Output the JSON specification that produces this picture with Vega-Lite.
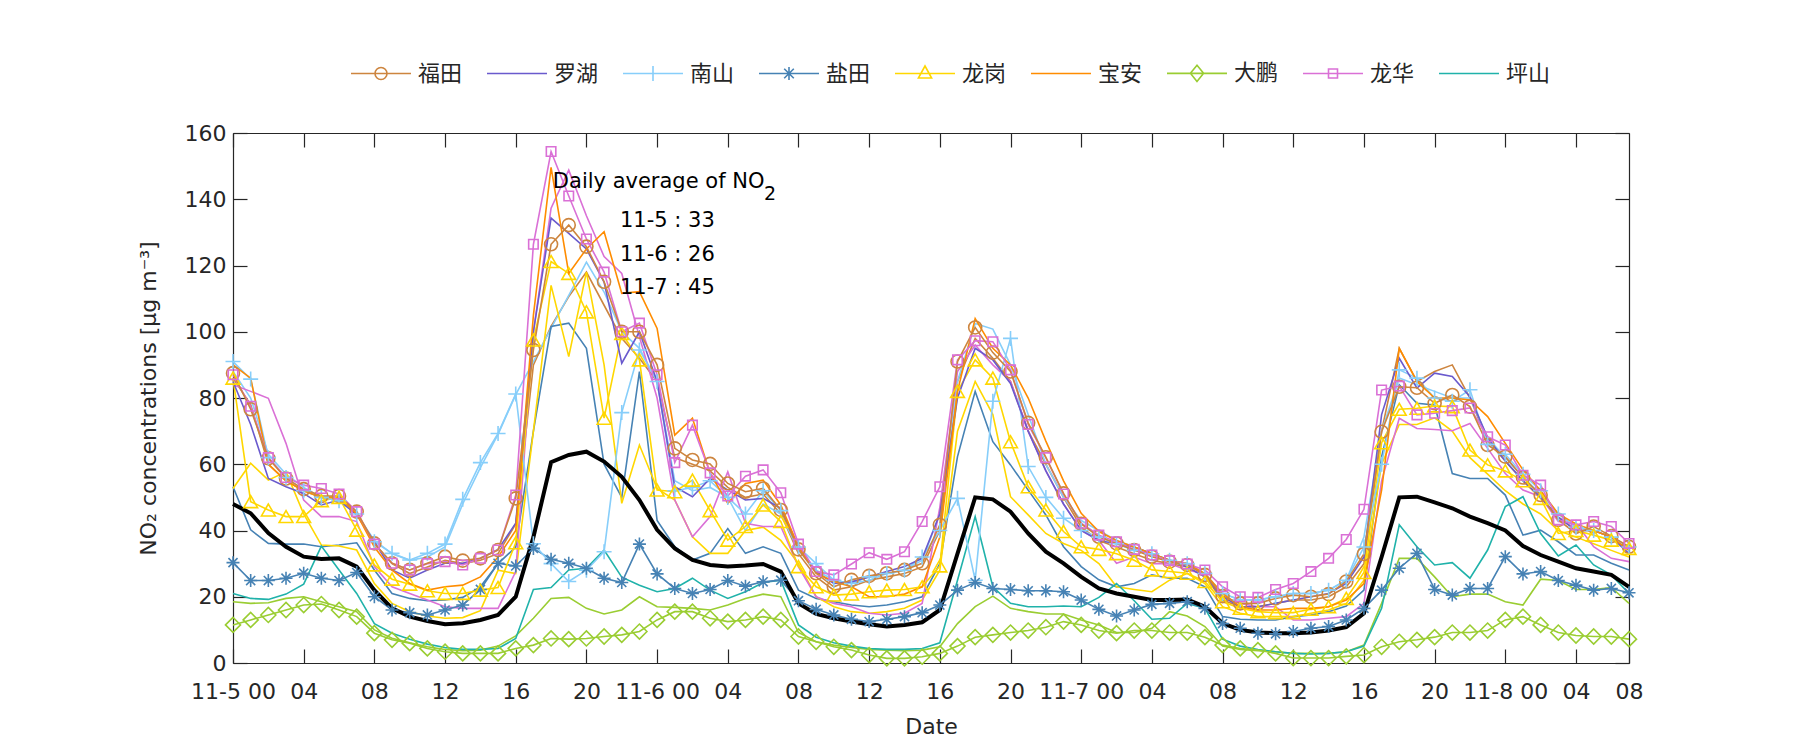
{
"$schema":"https://vega.github.io/schema/vega-lite/v6.json",
"width":1396,"height":530,
"autosize":{"type":"none"},
"padding":{"left":233,"top":133,"right":171,"bottom":87},
"background":"white",
"config":{"view":{"stroke":null}},
"datasets":{
"mean":[{"h":0,"v":48},{"h":1,"v":45.2},{"h":2,"v":39.2},{"h":3,"v":35.1},{"h":4,"v":32.1},{"h":5,"v":31.4},{"h":6,"v":31.6},{"h":7,"v":29.1},{"h":8,"v":22},{"h":9,"v":16.5},{"h":10,"v":14},{"h":11,"v":12.7},{"h":12,"v":11.7},{"h":13,"v":12},{"h":14,"v":13},{"h":15,"v":14.5},{"h":16,"v":20},{"h":17,"v":38},{"h":18,"v":60.6},{"h":19,"v":62.8},{"h":20,"v":63.8},{"h":21,"v":60.8},{"h":22,"v":56.2},{"h":23,"v":49.2},{"h":24,"v":40.2},{"h":25,"v":34.6},{"h":26,"v":31.1},{"h":27,"v":29.6},{"h":28,"v":29.1},{"h":29,"v":29.4},{"h":30,"v":29.9},{"h":31,"v":27.6},{"h":32,"v":18},{"h":33,"v":14.8},{"h":34,"v":13.5},{"h":35,"v":12.5},{"h":36,"v":11.7},{"h":37,"v":11},{"h":38,"v":11.5},{"h":39,"v":12.3},{"h":40,"v":16},{"h":41,"v":33},{"h":42,"v":50},{"h":43,"v":49.4},{"h":44,"v":45.7},{"h":45,"v":39.1},{"h":46,"v":33.6},{"h":47,"v":30.1},{"h":48,"v":26},{"h":49,"v":22.5},{"h":50,"v":21},{"h":51,"v":20},{"h":52,"v":19},{"h":53,"v":19},{"h":54,"v":19.2},{"h":55,"v":17},{"h":56,"v":12},{"h":57,"v":10},{"h":58,"v":9.2},{"h":59,"v":9},{"h":60,"v":9},{"h":61,"v":9.2},{"h":62,"v":9.8},{"h":63,"v":10.8},{"h":64,"v":15},{"h":65,"v":32},{"h":66,"v":50},{"h":67,"v":50.2},{"h":68,"v":48.5},{"h":69,"v":46.7},{"h":70,"v":44.2},{"h":71,"v":42.2},{"h":72,"v":40},{"h":73,"v":35.3},{"h":74,"v":32.6},{"h":75,"v":30.6},{"h":76,"v":28.6},{"h":77,"v":27.6},{"h":78,"v":26.6},{"h":79,"v":23}],
"futian":[{"h":0,"v":87.5},{"h":1,"v":76.6},{"h":2,"v":61.8},{"h":3,"v":55.7},{"h":4,"v":52.5},{"h":5,"v":50.4},{"h":6,"v":50.4},{"h":7,"v":45.7},{"h":8,"v":36.1},{"h":9,"v":30.1},{"h":10,"v":28.1},{"h":11,"v":30.1},{"h":12,"v":32.1},{"h":13,"v":30.9},{"h":14,"v":31.6},{"h":15,"v":34.1},{"h":16,"v":49.7},{"h":17,"v":94.5},{"h":18,"v":126.4},{"h":19,"v":132.2},{"h":20,"v":125.7},{"h":21,"v":115.1},{"h":22,"v":100},{"h":23,"v":100},{"h":24,"v":90},{"h":25,"v":64.8},{"h":26,"v":61.3},{"h":27,"v":60.1},{"h":28,"v":54.2},{"h":29,"v":51.7},{"h":30,"v":52.7},{"h":31,"v":46.2},{"h":32,"v":34.3},{"h":33,"v":27.1},{"h":34,"v":23},{"h":35,"v":25.1},{"h":36,"v":26.3},{"h":37,"v":27.1},{"h":38,"v":28.1},{"h":39,"v":30.1},{"h":40,"v":41.7},{"h":41,"v":91},{"h":42,"v":101.3},{"h":43,"v":93.7},{"h":44,"v":88},{"h":45,"v":72.5},{"h":46,"v":62.1},{"h":47,"v":51.2},{"h":48,"v":42},{"h":49,"v":38.1},{"h":50,"v":36.1},{"h":51,"v":34.1},{"h":52,"v":32.1},{"h":53,"v":30.6},{"h":54,"v":29.6},{"h":55,"v":26.6},{"h":56,"v":20.2},{"h":57,"v":18},{"h":58,"v":18},{"h":59,"v":19.5},{"h":60,"v":20.5},{"h":61,"v":20},{"h":62,"v":20.8},{"h":63,"v":24.6},{"h":64,"v":32.9},{"h":65,"v":69.8},{"h":66,"v":83.4},{"h":67,"v":83.1},{"h":68,"v":78.4},{"h":69,"v":80.9},{"h":70,"v":77.4},{"h":71,"v":65.8},{"h":72,"v":62.3},{"h":73,"v":56},{"h":74,"v":50.7},{"h":75,"v":43.2},{"h":76,"v":39.1},{"h":77,"v":41.2},{"h":78,"v":38.3},{"h":79,"v":35.1}],
"futian2":[{"h":0,"v":86},{"h":1,"v":78},{"h":2,"v":60},{"h":3,"v":55},{"h":4,"v":52},{"h":5,"v":50},{"h":6,"v":50},{"h":7,"v":45},{"h":8,"v":36},{"h":9,"v":30},{"h":10,"v":27},{"h":11,"v":29},{"h":12,"v":31},{"h":13,"v":30},{"h":14,"v":31},{"h":15,"v":33},{"h":16,"v":42},{"h":17,"v":90},{"h":18,"v":101.6},{"h":19,"v":110.6},{"h":20,"v":118},{"h":21,"v":108},{"h":22,"v":98},{"h":23,"v":92},{"h":24,"v":85},{"h":25,"v":62},{"h":26,"v":60},{"h":27,"v":58},{"h":28,"v":53},{"h":29,"v":50},{"h":30,"v":51},{"h":31,"v":45},{"h":32,"v":33},{"h":33,"v":26},{"h":34,"v":22},{"h":35,"v":23},{"h":36,"v":25},{"h":37,"v":26},{"h":38,"v":27},{"h":39,"v":29},{"h":40,"v":40},{"h":41,"v":85},{"h":42,"v":98},{"h":43,"v":92},{"h":44,"v":85},{"h":45,"v":70},{"h":46,"v":60},{"h":47,"v":50},{"h":48,"v":41},{"h":49,"v":37},{"h":50,"v":35},{"h":51,"v":33},{"h":52,"v":31},{"h":53,"v":30},{"h":54,"v":29},{"h":55,"v":26},{"h":56,"v":19},{"h":57,"v":17},{"h":58,"v":17},{"h":59,"v":18},{"h":60,"v":19},{"h":61,"v":19},{"h":62,"v":20},{"h":63,"v":23},{"h":64,"v":30},{"h":65,"v":70},{"h":66,"v":95},{"h":67,"v":85},{"h":68,"v":88},{"h":69,"v":90},{"h":70,"v":80},{"h":71,"v":67},{"h":72,"v":61},{"h":73,"v":55},{"h":74,"v":50},{"h":75,"v":44},{"h":76,"v":40},{"h":77,"v":40},{"h":78,"v":38},{"h":79,"v":34}],
"luohu":[{"h":0,"v":85},{"h":1,"v":72},{"h":2,"v":55.7},{"h":3,"v":53.2},{"h":4,"v":51.2},{"h":5,"v":47.7},{"h":6,"v":49.2},{"h":7,"v":44.7},{"h":8,"v":36.6},{"h":9,"v":28.1},{"h":10,"v":25.6},{"h":11,"v":28.1},{"h":12,"v":30.1},{"h":13,"v":30.1},{"h":14,"v":31.6},{"h":15,"v":34.3},{"h":16,"v":42.2},{"h":17,"v":100},{"h":18,"v":134.3},{"h":19,"v":129.7},{"h":20,"v":125},{"h":21,"v":115},{"h":22,"v":90.5},{"h":23,"v":100},{"h":24,"v":85},{"h":25,"v":53.2},{"h":26,"v":50.2},{"h":27,"v":55.7},{"h":28,"v":52.2},{"h":29,"v":49.2},{"h":30,"v":49.7},{"h":31,"v":46.7},{"h":32,"v":35.1},{"h":33,"v":27.6},{"h":34,"v":24},{"h":35,"v":24.5},{"h":36,"v":26},{"h":37,"v":27.6},{"h":38,"v":29.1},{"h":39,"v":31.6},{"h":40,"v":45},{"h":41,"v":80},{"h":42,"v":95},{"h":43,"v":91.5},{"h":44,"v":84.4},{"h":45,"v":70},{"h":46,"v":58},{"h":47,"v":48},{"h":48,"v":40},{"h":49,"v":37},{"h":50,"v":36},{"h":51,"v":35},{"h":52,"v":33},{"h":53,"v":31},{"h":54,"v":29},{"h":55,"v":26},{"h":56,"v":20},{"h":57,"v":17},{"h":58,"v":17},{"h":59,"v":18},{"h":60,"v":19},{"h":61,"v":20},{"h":62,"v":21},{"h":63,"v":24},{"h":64,"v":32},{"h":65,"v":75},{"h":66,"v":92},{"h":67,"v":83},{"h":68,"v":87.5},{"h":69,"v":86.5},{"h":70,"v":80.4},{"h":71,"v":68},{"h":72,"v":61},{"h":73,"v":55},{"h":74,"v":50},{"h":75,"v":44},{"h":76,"v":40},{"h":77,"v":40},{"h":78,"v":38},{"h":79,"v":33}],
"nanshan":[{"h":0,"v":91},{"h":1,"v":85.7},{"h":2,"v":62},{"h":3,"v":56},{"h":4,"v":52},{"h":5,"v":50},{"h":6,"v":49},{"h":7,"v":45},{"h":8,"v":36.6},{"h":9,"v":33.1},{"h":10,"v":31.1},{"h":11,"v":33.1},{"h":12,"v":35.9},{"h":13,"v":49.4},{"h":14,"v":60.5},{"h":15,"v":69.3},{"h":16,"v":81.2},{"h":17,"v":36},{"h":18,"v":30},{"h":19,"v":24.6},{"h":20,"v":28},{"h":21,"v":33.6},{"h":22,"v":75.6},{"h":23,"v":94.5},{"h":24,"v":85},{"h":25,"v":52},{"h":26,"v":53},{"h":27,"v":55},{"h":28,"v":50},{"h":29,"v":45},{"h":30,"v":52},{"h":31,"v":46},{"h":32,"v":35},{"h":33,"v":30},{"h":34,"v":25},{"h":35,"v":24},{"h":36,"v":26},{"h":37,"v":27},{"h":38,"v":28},{"h":39,"v":32},{"h":40,"v":40},{"h":41,"v":49.7},{"h":42,"v":25},{"h":43,"v":79},{"h":44,"v":98},{"h":45,"v":59.3},{"h":46,"v":50},{"h":47,"v":43.7},{"h":48,"v":40},{"h":49,"v":38},{"h":50,"v":36},{"h":51,"v":34},{"h":52,"v":33},{"h":53,"v":31},{"h":54,"v":30},{"h":55,"v":27},{"h":56,"v":21},{"h":57,"v":19},{"h":58,"v":19},{"h":59,"v":20},{"h":60,"v":21},{"h":61,"v":21},{"h":62,"v":22},{"h":63,"v":25},{"h":64,"v":35},{"h":65,"v":60},{"h":66,"v":88.5},{"h":67,"v":86},{"h":68,"v":80},{"h":69,"v":79},{"h":70,"v":82.5},{"h":71,"v":66},{"h":72,"v":63},{"h":73,"v":57},{"h":74,"v":52},{"h":75,"v":45},{"h":76,"v":41},{"h":77,"v":40},{"h":78,"v":38},{"h":79,"v":35}],
"nanshan2":[{"h":0,"v":88},{"h":1,"v":80},{"h":2,"v":63},{"h":3,"v":57},{"h":4,"v":53},{"h":5,"v":50},{"h":6,"v":49},{"h":7,"v":45},{"h":8,"v":37},{"h":9,"v":33},{"h":10,"v":31},{"h":11,"v":32},{"h":12,"v":35},{"h":13,"v":48},{"h":14,"v":59},{"h":15,"v":69},{"h":16,"v":81},{"h":17,"v":91},{"h":18,"v":101},{"h":19,"v":111},{"h":20,"v":121},{"h":21,"v":112},{"h":22,"v":100},{"h":23,"v":95},{"h":24,"v":85},{"h":25,"v":55},{"h":26,"v":52},{"h":27,"v":53},{"h":28,"v":50},{"h":29,"v":40},{"h":30,"v":48},{"h":31,"v":45},{"h":32,"v":34},{"h":33,"v":28},{"h":34,"v":25},{"h":35,"v":24},{"h":36,"v":25},{"h":37,"v":27},{"h":38,"v":28},{"h":39,"v":31},{"h":40,"v":45},{"h":41,"v":85},{"h":42,"v":102.5},{"h":43,"v":100.8},{"h":44,"v":90},{"h":45,"v":75},{"h":46,"v":60},{"h":47,"v":50},{"h":48,"v":43},{"h":49,"v":40},{"h":50,"v":37},{"h":51,"v":35},{"h":52,"v":33},{"h":53,"v":31},{"h":54,"v":30},{"h":55,"v":27},{"h":56,"v":21},{"h":57,"v":19},{"h":58,"v":19},{"h":59,"v":20},{"h":60,"v":21},{"h":61,"v":21},{"h":62,"v":22},{"h":63,"v":25},{"h":64,"v":38},{"h":65,"v":70},{"h":66,"v":86},{"h":67,"v":84},{"h":68,"v":82},{"h":69,"v":80},{"h":70,"v":80},{"h":71,"v":68},{"h":72,"v":62},{"h":73,"v":56},{"h":74,"v":51},{"h":75,"v":45},{"h":76,"v":41},{"h":77,"v":40},{"h":78,"v":38},{"h":79,"v":35}],
"yantian":[{"h":0,"v":30.3},{"h":1,"v":24.9},{"h":2,"v":24.9},{"h":3,"v":25.6},{"h":4,"v":27.1},{"h":5,"v":25.6},{"h":6,"v":24.9},{"h":7,"v":27.3},{"h":8,"v":20},{"h":9,"v":16},{"h":10,"v":15.2},{"h":11,"v":14.5},{"h":12,"v":16},{"h":13,"v":17.5},{"h":14,"v":22.2},{"h":15,"v":30.1},{"h":16,"v":29.3},{"h":17,"v":34.6},{"h":18,"v":31.3},{"h":19,"v":30.1},{"h":20,"v":28.6},{"h":21,"v":25.6},{"h":22,"v":24.3},{"h":23,"v":35.9},{"h":24,"v":26.9},{"h":25,"v":22.5},{"h":26,"v":21},{"h":27,"v":22.2},{"h":28,"v":24.9},{"h":29,"v":23.2},{"h":30,"v":24.5},{"h":31,"v":25},{"h":32,"v":18.8},{"h":33,"v":16.2},{"h":34,"v":14.5},{"h":35,"v":13.2},{"h":36,"v":12.5},{"h":37,"v":13.2},{"h":38,"v":14},{"h":39,"v":15.2},{"h":40,"v":17.5},{"h":41,"v":22},{"h":42,"v":24.3},{"h":43,"v":22.5},{"h":44,"v":22.2},{"h":45,"v":21.8},{"h":46,"v":21.8},{"h":47,"v":21.5},{"h":48,"v":19},{"h":49,"v":16.2},{"h":50,"v":14.2},{"h":51,"v":16},{"h":52,"v":17.7},{"h":53,"v":18},{"h":54,"v":18.5},{"h":55,"v":16.5},{"h":56,"v":11.9},{"h":57,"v":10.5},{"h":58,"v":9},{"h":59,"v":8.8},{"h":60,"v":9.5},{"h":61,"v":10.5},{"h":62,"v":11},{"h":63,"v":13},{"h":64,"v":16.5},{"h":65,"v":22},{"h":66,"v":28.6},{"h":67,"v":33.1},{"h":68,"v":22.2},{"h":69,"v":20.5},{"h":70,"v":22.5},{"h":71,"v":22.5},{"h":72,"v":32.1},{"h":73,"v":26.9},{"h":74,"v":27.6},{"h":75,"v":24.9},{"h":76,"v":23.5},{"h":77,"v":22},{"h":78,"v":22.5},{"h":79,"v":21.2}],
"yantian2":[{"h":0,"v":53.2},{"h":1,"v":40.2},{"h":2,"v":36.1},{"h":3,"v":35.9},{"h":4,"v":35.9},{"h":5,"v":35.1},{"h":6,"v":35.6},{"h":7,"v":36.3},{"h":8,"v":28.1},{"h":9,"v":21},{"h":10,"v":19.5},{"h":11,"v":18.8},{"h":12,"v":19},{"h":13,"v":19.8},{"h":14,"v":23},{"h":15,"v":30},{"h":16,"v":35},{"h":17,"v":70},{"h":18,"v":101.6},{"h":19,"v":102.6},{"h":20,"v":95},{"h":21,"v":60},{"h":22,"v":50},{"h":23,"v":88},{"h":24,"v":43},{"h":25,"v":35.1},{"h":26,"v":31.1},{"h":27,"v":33.1},{"h":28,"v":40.6},{"h":29,"v":33.1},{"h":30,"v":35.1},{"h":31,"v":33.1},{"h":32,"v":22},{"h":33,"v":19.5},{"h":34,"v":18.5},{"h":35,"v":17.5},{"h":36,"v":17},{"h":37,"v":17.5},{"h":38,"v":18.5},{"h":39,"v":20},{"h":40,"v":30},{"h":41,"v":62.3},{"h":42,"v":82},{"h":43,"v":66.8},{"h":44,"v":59.8},{"h":45,"v":52.2},{"h":46,"v":44.7},{"h":47,"v":35.1},{"h":48,"v":29.1},{"h":49,"v":25.1},{"h":50,"v":23},{"h":51,"v":24},{"h":52,"v":26.6},{"h":53,"v":25.6},{"h":54,"v":25.6},{"h":55,"v":23},{"h":56,"v":14},{"h":57,"v":13.2},{"h":58,"v":13},{"h":59,"v":13},{"h":60,"v":14},{"h":61,"v":14.5},{"h":62,"v":15.5},{"h":63,"v":17.2},{"h":64,"v":22},{"h":65,"v":62.3},{"h":66,"v":84},{"h":67,"v":78.4},{"h":68,"v":77.9},{"h":69,"v":57.2},{"h":70,"v":55.7},{"h":71,"v":55.7},{"h":72,"v":50.7},{"h":73,"v":38.6},{"h":74,"v":40.1},{"h":75,"v":36.6},{"h":76,"v":32.6},{"h":77,"v":32.6},{"h":78,"v":30.1},{"h":79,"v":28.1}],
"longgang":[{"h":0,"v":86},{"h":1,"v":48.7},{"h":2,"v":46.2},{"h":3,"v":44.2},{"h":4,"v":44.2},{"h":5,"v":49},{"h":6,"v":50},{"h":7,"v":40.1},{"h":8,"v":29.6},{"h":9,"v":25.3},{"h":10,"v":23.8},{"h":11,"v":21.8},{"h":12,"v":21},{"h":13,"v":21},{"h":14,"v":22},{"h":15,"v":22.8},{"h":16,"v":36.3},{"h":17,"v":97.5},{"h":18,"v":121.2},{"h":19,"v":117.6},{"h":20,"v":106},{"h":21,"v":73.9},{"h":22,"v":99.5},{"h":23,"v":91.5},{"h":24,"v":52.2},{"h":25,"v":51.7},{"h":26,"v":55.2},{"h":27,"v":46},{"h":28,"v":37.1},{"h":29,"v":41.2},{"h":30,"v":47.7},{"h":31,"v":42.7},{"h":32,"v":29.1},{"h":33,"v":23},{"h":34,"v":20.5},{"h":35,"v":20.8},{"h":36,"v":21.5},{"h":37,"v":22},{"h":38,"v":22.2},{"h":39,"v":23},{"h":40,"v":29.3},{"h":41,"v":82},{"h":42,"v":91.5},{"h":43,"v":86},{"h":44,"v":66.8},{"h":45,"v":53.2},{"h":46,"v":46.2},{"h":47,"v":39.7},{"h":48,"v":35.1},{"h":49,"v":34.3},{"h":50,"v":33},{"h":51,"v":31},{"h":52,"v":28.1},{"h":53,"v":27.6},{"h":54,"v":27.1},{"h":55,"v":24.6},{"h":56,"v":18.5},{"h":57,"v":16.5},{"h":58,"v":15.5},{"h":59,"v":15.2},{"h":60,"v":15.2},{"h":61,"v":16.2},{"h":62,"v":17},{"h":63,"v":19.5},{"h":64,"v":27.3},{"h":65,"v":66.5},{"h":66,"v":76.6},{"h":67,"v":76.9},{"h":68,"v":77.6},{"h":69,"v":77.4},{"h":70,"v":64.3},{"h":71,"v":59.8},{"h":72,"v":58},{"h":73,"v":55},{"h":74,"v":49.7},{"h":75,"v":39.1},{"h":76,"v":40},{"h":77,"v":38.6},{"h":78,"v":37.1},{"h":79,"v":34.6}],
"longgang2":[{"h":0,"v":52.7},{"h":1,"v":60.3},{"h":2,"v":55.2},{"h":3,"v":57.7},{"h":4,"v":45},{"h":5,"v":35.6},{"h":6,"v":35.3},{"h":7,"v":34.1},{"h":8,"v":24},{"h":9,"v":18},{"h":10,"v":15.5},{"h":11,"v":14.2},{"h":12,"v":13.5},{"h":13,"v":13.7},{"h":14,"v":15.8},{"h":15,"v":28},{"h":16,"v":27},{"h":17,"v":70},{"h":18,"v":114},{"h":19,"v":92.5},{"h":20,"v":118},{"h":21,"v":90},{"h":22,"v":48.2},{"h":23,"v":65.8},{"h":24,"v":52.7},{"h":25,"v":49.2},{"h":26,"v":38.1},{"h":27,"v":33.1},{"h":28,"v":33.1},{"h":29,"v":40},{"h":30,"v":41},{"h":31,"v":37},{"h":32,"v":30},{"h":33,"v":20},{"h":34,"v":17},{"h":35,"v":15.5},{"h":36,"v":15},{"h":37,"v":15.5},{"h":38,"v":16.5},{"h":39,"v":19},{"h":40,"v":28},{"h":41,"v":70},{"h":42,"v":85},{"h":43,"v":75},{"h":44,"v":50.2},{"h":45,"v":44.7},{"h":46,"v":39.1},{"h":47,"v":36.1},{"h":48,"v":34},{"h":49,"v":30},{"h":50,"v":23},{"h":51,"v":22.2},{"h":52,"v":21.5},{"h":53,"v":25},{"h":54,"v":27},{"h":55,"v":24},{"h":56,"v":17},{"h":57,"v":15},{"h":58,"v":14},{"h":59,"v":14},{"h":60,"v":14},{"h":61,"v":15},{"h":62,"v":16},{"h":63,"v":18},{"h":64,"v":25},{"h":65,"v":60},{"h":66,"v":72},{"h":67,"v":72},{"h":68,"v":74},{"h":69,"v":70},{"h":70,"v":62},{"h":71,"v":57},{"h":72,"v":52},{"h":73,"v":48},{"h":74,"v":45},{"h":75,"v":40},{"h":76,"v":38},{"h":77,"v":36},{"h":78,"v":34},{"h":79,"v":32}],
"baoan":[{"h":0,"v":90},{"h":1,"v":86},{"h":2,"v":60},{"h":3,"v":55},{"h":4,"v":52},{"h":5,"v":50},{"h":6,"v":50},{"h":7,"v":45},{"h":8,"v":35},{"h":9,"v":28},{"h":10,"v":24},{"h":11,"v":22},{"h":12,"v":23},{"h":13,"v":23.5},{"h":14,"v":26},{"h":15,"v":32},{"h":16,"v":40},{"h":17,"v":105},{"h":18,"v":149.6},{"h":19,"v":117.6},{"h":20,"v":125},{"h":21,"v":130.2},{"h":22,"v":111.6},{"h":23,"v":112.1},{"h":24,"v":101},{"h":25,"v":68.8},{"h":26,"v":73.9},{"h":27,"v":57.2},{"h":28,"v":48.2},{"h":29,"v":54.2},{"h":30,"v":55.2},{"h":31,"v":47.7},{"h":32,"v":35.1},{"h":33,"v":27.1},{"h":34,"v":24.6},{"h":35,"v":23},{"h":36,"v":20},{"h":37,"v":20},{"h":38,"v":20.8},{"h":39,"v":23},{"h":40,"v":38},{"h":41,"v":82},{"h":42,"v":104},{"h":43,"v":95},{"h":44,"v":90},{"h":45,"v":80},{"h":46,"v":67},{"h":47,"v":55},{"h":48,"v":45.2},{"h":49,"v":39.7},{"h":50,"v":37},{"h":51,"v":35},{"h":52,"v":33},{"h":53,"v":31},{"h":54,"v":30},{"h":55,"v":27},{"h":56,"v":21},{"h":57,"v":17},{"h":58,"v":16},{"h":59,"v":16},{"h":60,"v":16.5},{"h":61,"v":16.5},{"h":62,"v":17},{"h":63,"v":19},{"h":64,"v":24},{"h":65,"v":52.2},{"h":66,"v":95},{"h":67,"v":85},{"h":68,"v":80},{"h":69,"v":80},{"h":70,"v":79.4},{"h":71,"v":74.4},{"h":72,"v":66.3},{"h":73,"v":58.3},{"h":74,"v":52},{"h":75,"v":45},{"h":76,"v":42},{"h":77,"v":40},{"h":78,"v":38},{"h":79,"v":34}],
"dapeng":[{"h":0,"v":11.5},{"h":1,"v":13},{"h":2,"v":14.5},{"h":3,"v":16},{"h":4,"v":17.5},{"h":5,"v":17.8},{"h":6,"v":16},{"h":7,"v":14},{"h":8,"v":9},{"h":9,"v":7},{"h":10,"v":6},{"h":11,"v":4.4},{"h":12,"v":3.4},{"h":13,"v":2.9},{"h":14,"v":2.9},{"h":15,"v":2.9},{"h":16,"v":4.4},{"h":17,"v":5.4},{"h":18,"v":7.4},{"h":19,"v":7.2},{"h":20,"v":7.4},{"h":21,"v":8},{"h":22,"v":8.5},{"h":23,"v":9.5},{"h":24,"v":13},{"h":25,"v":15.5},{"h":26,"v":15.5},{"h":27,"v":13.5},{"h":28,"v":12.5},{"h":29,"v":13},{"h":30,"v":14},{"h":31,"v":13},{"h":32,"v":8},{"h":33,"v":6.4},{"h":34,"v":4.9},{"h":35,"v":3.9},{"h":36,"v":2.4},{"h":37,"v":1.4},{"h":38,"v":1.4},{"h":39,"v":1.9},{"h":40,"v":2.9},{"h":41,"v":5.1},{"h":42,"v":7.8},{"h":43,"v":8.5},{"h":44,"v":9.2},{"h":45,"v":9.8},{"h":46,"v":10.8},{"h":47,"v":12.5},{"h":48,"v":11.5},{"h":49,"v":9.8},{"h":50,"v":9},{"h":51,"v":9.8},{"h":52,"v":9.8},{"h":53,"v":9.2},{"h":54,"v":9.2},{"h":55,"v":7.8},{"h":56,"v":5.4},{"h":57,"v":4.4},{"h":58,"v":3.9},{"h":59,"v":2.9},{"h":60,"v":1.5},{"h":61,"v":1.5},{"h":62,"v":1.5},{"h":63,"v":2},{"h":64,"v":2.4},{"h":65,"v":4.9},{"h":66,"v":6.4},{"h":67,"v":7},{"h":68,"v":7.8},{"h":69,"v":9.2},{"h":70,"v":9.2},{"h":71,"v":9.8},{"h":72,"v":13},{"h":73,"v":14},{"h":74,"v":11.5},{"h":75,"v":9.2},{"h":76,"v":8.3},{"h":77,"v":8},{"h":78,"v":8},{"h":79,"v":7.2}],
"dapeng2":[{"h":0,"v":18.5},{"h":1,"v":18},{"h":2,"v":18.2},{"h":3,"v":19.5},{"h":4,"v":20},{"h":5,"v":18.5},{"h":6,"v":17},{"h":7,"v":15.5},{"h":8,"v":10},{"h":9,"v":7.5},{"h":10,"v":6.1},{"h":11,"v":4.9},{"h":12,"v":4.1},{"h":13,"v":3.7},{"h":14,"v":3.9},{"h":15,"v":5.1},{"h":16,"v":8.2},{"h":17,"v":13.5},{"h":18,"v":19.5},{"h":19,"v":19.8},{"h":20,"v":16.5},{"h":21,"v":14.8},{"h":22,"v":16},{"h":23,"v":20},{"h":24,"v":17},{"h":25,"v":16.8},{"h":26,"v":16.5},{"h":27,"v":16},{"h":28,"v":17.5},{"h":29,"v":19.5},{"h":30,"v":20.8},{"h":31,"v":20},{"h":32,"v":9.2},{"h":33,"v":6.4},{"h":34,"v":5.4},{"h":35,"v":4.7},{"h":36,"v":4.1},{"h":37,"v":3.9},{"h":38,"v":3.7},{"h":39,"v":3.9},{"h":40,"v":4.9},{"h":41,"v":11.9},{"h":42,"v":17},{"h":43,"v":20.2},{"h":44,"v":16.5},{"h":45,"v":15.5},{"h":46,"v":14.8},{"h":47,"v":14.8},{"h":48,"v":13},{"h":49,"v":11.5},{"h":50,"v":9.2},{"h":51,"v":9.2},{"h":52,"v":10.5},{"h":53,"v":15.5},{"h":54,"v":14.2},{"h":55,"v":11},{"h":56,"v":5.1},{"h":57,"v":4.1},{"h":58,"v":3.7},{"h":59,"v":3.4},{"h":60,"v":2.9},{"h":61,"v":2.9},{"h":62,"v":2.9},{"h":63,"v":3.4},{"h":64,"v":5.4},{"h":65,"v":18},{"h":66,"v":31.6},{"h":67,"v":31.6},{"h":68,"v":26},{"h":69,"v":20},{"h":70,"v":20.8},{"h":71,"v":20.8},{"h":72,"v":18.5},{"h":73,"v":17.5},{"h":74,"v":25.3},{"h":75,"v":24.9},{"h":76,"v":22.2},{"h":77,"v":22.2},{"h":78,"v":22.8},{"h":79,"v":18}],
"longhua":[{"h":0,"v":87},{"h":1,"v":77.5},{"h":2,"v":62},{"h":3,"v":56},{"h":4,"v":53.7},{"h":5,"v":52.7},{"h":6,"v":51},{"h":7,"v":45.7},{"h":8,"v":35.9},{"h":9,"v":30.1},{"h":10,"v":28.1},{"h":11,"v":30},{"h":12,"v":30.6},{"h":13,"v":29.6},{"h":14,"v":31.6},{"h":15,"v":34.1},{"h":16,"v":50.7},{"h":17,"v":126.4},{"h":18,"v":154.4},{"h":19,"v":141},{"h":20,"v":128},{"h":21,"v":118},{"h":22,"v":100},{"h":23,"v":102.6},{"h":24,"v":87},{"h":25,"v":60.5},{"h":26,"v":71.8},{"h":27,"v":57.4},{"h":28,"v":50.4},{"h":29,"v":56.4},{"h":30,"v":58.3},{"h":31,"v":51.4},{"h":32,"v":35.9},{"h":33,"v":27.6},{"h":34,"v":26.6},{"h":35,"v":29.9},{"h":36,"v":33.3},{"h":37,"v":31.3},{"h":38,"v":33.6},{"h":39,"v":42.7},{"h":40,"v":53.2},{"h":41,"v":91.5},{"h":42,"v":97.3},{"h":43,"v":97},{"h":44,"v":88.5},{"h":45,"v":72},{"h":46,"v":62},{"h":47,"v":51},{"h":48,"v":42.2},{"h":49,"v":38.6},{"h":50,"v":36.6},{"h":51,"v":34.3},{"h":52,"v":32.6},{"h":53,"v":30.9},{"h":54,"v":29.9},{"h":55,"v":28.1},{"h":56,"v":23},{"h":57,"v":20},{"h":58,"v":19.8},{"h":59,"v":22.2},{"h":60,"v":24},{"h":61,"v":27.6},{"h":62,"v":31.6},{"h":63,"v":37.3},{"h":64,"v":46.4},{"h":65,"v":82.4},{"h":66,"v":83.6},{"h":67,"v":74.9},{"h":68,"v":75.4},{"h":69,"v":76.2},{"h":70,"v":77},{"h":71,"v":68.3},{"h":72,"v":65.8},{"h":73,"v":56.7},{"h":74,"v":53.7},{"h":75,"v":43.2},{"h":76,"v":41.7},{"h":77,"v":42.7},{"h":78,"v":41.2},{"h":79,"v":36.1}],
"longhua2":[{"h":0,"v":84},{"h":1,"v":82},{"h":2,"v":79.9},{"h":3,"v":66.3},{"h":4,"v":49.2},{"h":5,"v":44.2},{"h":6,"v":44.2},{"h":7,"v":42.7},{"h":8,"v":29.1},{"h":9,"v":23},{"h":10,"v":21},{"h":11,"v":19},{"h":12,"v":17},{"h":13,"v":16.5},{"h":14,"v":16.5},{"h":15,"v":16.5},{"h":16,"v":27.6},{"h":17,"v":100},{"h":18,"v":137.3},{"h":19,"v":148.8},{"h":20,"v":135},{"h":21,"v":122.7},{"h":22,"v":117.6},{"h":23,"v":98.5},{"h":24,"v":80},{"h":25,"v":49.2},{"h":26,"v":38.1},{"h":27,"v":44.2},{"h":28,"v":57.7},{"h":29,"v":42.2},{"h":30,"v":41.2},{"h":31,"v":41.2},{"h":32,"v":29},{"h":33,"v":20},{"h":34,"v":18},{"h":35,"v":17},{"h":36,"v":15},{"h":37,"v":14.5},{"h":38,"v":15},{"h":39,"v":18},{"h":40,"v":47},{"h":41,"v":88},{"h":42,"v":96},{"h":43,"v":90},{"h":44,"v":85},{"h":45,"v":70},{"h":46,"v":58},{"h":47,"v":48},{"h":48,"v":40},{"h":49,"v":37},{"h":50,"v":30.1},{"h":51,"v":32},{"h":52,"v":30},{"h":53,"v":30},{"h":54,"v":28},{"h":55,"v":27},{"h":56,"v":20},{"h":57,"v":18},{"h":58,"v":17},{"h":59,"v":17},{"h":60,"v":13},{"h":61,"v":13},{"h":62,"v":13.5},{"h":63,"v":14},{"h":64,"v":18},{"h":65,"v":55},{"h":66,"v":73.9},{"h":67,"v":70.8},{"h":68,"v":70.5},{"h":69,"v":70.1},{"h":70,"v":72.3},{"h":71,"v":64.8},{"h":72,"v":57.2},{"h":73,"v":52.2},{"h":74,"v":50.2},{"h":75,"v":42.7},{"h":76,"v":42.2},{"h":77,"v":35.1},{"h":78,"v":31.6},{"h":79,"v":30.6}],
"pingshan":[{"h":0,"v":21},{"h":1,"v":19.5},{"h":2,"v":19.2},{"h":3,"v":20.8},{"h":4,"v":23.8},{"h":5,"v":35.3},{"h":6,"v":28.1},{"h":7,"v":21},{"h":8,"v":11.9},{"h":9,"v":9},{"h":10,"v":7.2},{"h":11,"v":5.7},{"h":12,"v":4.7},{"h":13,"v":4.1},{"h":14,"v":4.1},{"h":15,"v":4.4},{"h":16,"v":7.4},{"h":17,"v":22.2},{"h":18,"v":22.8},{"h":19,"v":28.1},{"h":20,"v":28.6},{"h":21,"v":34.1},{"h":22,"v":25.9},{"h":23,"v":23.5},{"h":24,"v":21.5},{"h":25,"v":22.5},{"h":26,"v":25.6},{"h":27,"v":22},{"h":28,"v":19.5},{"h":29,"v":21.5},{"h":30,"v":24.3},{"h":31,"v":25},{"h":32,"v":11.5},{"h":33,"v":7.8},{"h":34,"v":6.1},{"h":35,"v":5.1},{"h":36,"v":4.4},{"h":37,"v":4.1},{"h":38,"v":4.1},{"h":39,"v":4.4},{"h":40,"v":6.1},{"h":41,"v":25},{"h":42,"v":44.2},{"h":43,"v":23},{"h":44,"v":18},{"h":45,"v":17},{"h":46,"v":17},{"h":47,"v":17.2},{"h":48,"v":17},{"h":49,"v":19.8},{"h":50,"v":24},{"h":51,"v":18.8},{"h":52,"v":13.2},{"h":53,"v":13.5},{"h":54,"v":18},{"h":55,"v":16.5},{"h":56,"v":7.2},{"h":57,"v":5.1},{"h":58,"v":4.1},{"h":59,"v":3.4},{"h":60,"v":2.9},{"h":61,"v":2.7},{"h":62,"v":2.9},{"h":63,"v":3.4},{"h":64,"v":5.1},{"h":65,"v":16.5},{"h":66,"v":41.7},{"h":67,"v":35.1},{"h":68,"v":29.6},{"h":69,"v":30.3},{"h":70,"v":25.6},{"h":71,"v":34.1},{"h":72,"v":47.2},{"h":73,"v":50.2},{"h":74,"v":39.1},{"h":75,"v":32.3},{"h":76,"v":35.6},{"h":77,"v":29.6},{"h":78,"v":26.6},{"h":79,"v":21}],
"legend":[{"d":"福田"},{"d":"罗湖"},{"d":"南山"},{"d":"盐田"},{"d":"龙岗"},{"d":"宝安"},{"d":"大鹏"},{"d":"龙华"},{"d":"坪山"}],
"notes":[{"h":18.1,"v":145.3,"t":"Daily average of NO"},{"h":21.9,"v":133.4,"t":"11-5 : 33"},{"h":21.9,"v":123.2,"t":"11-6 : 26"},{"h":21.9,"v":113.1,"t":"11-7 : 45"}],
"notesub":[{"h":30.05,"v":141.6,"t":"2"}]
},
"encoding":{
"x":{"field":"h","type":"quantitative","scale":{"domain":[0,79],"nice":false,"zero":false},"axis":null},
"y":{"field":"v","type":"quantitative","scale":{"domain":[0,160],"nice":false},"axis":null}
},
"resolve":{"axis":{"x":"independent","y":"independent"}},
"layer":[
{"data":{"name":"futian2"},"mark":{"type":"line","color":"#CD853F","strokeWidth":1.6}},
{"data":{"name":"nanshan2"},"mark":{"type":"line","color":"#87CEFA","strokeWidth":1.6}},
{"data":{"name":"yantian2"},"mark":{"type":"line","color":"#4682B4","strokeWidth":1.6}},
{"data":{"name":"longgang2"},"mark":{"type":"line","color":"#FFD700","strokeWidth":1.6}},
{"data":{"name":"dapeng2"},"mark":{"type":"line","color":"#9ACD32","strokeWidth":1.6}},
{"data":{"name":"longhua2"},"mark":{"type":"line","color":"#DA70D6","strokeWidth":1.6}},
{"data":{"name":"pingshan"},"mark":{"type":"line","color":"#20B2AA","strokeWidth":1.6}},
{"data":{"name":"dapeng"},"mark":{"type":"line","color":"#9ACD32","strokeWidth":1.6}},
{"data":{"name":"yantian"},"mark":{"type":"line","color":"#4682B4","strokeWidth":1.6}},
{"data":{"name":"longgang"},"mark":{"type":"line","color":"#FFD700","strokeWidth":1.6}},
{"data":{"name":"nanshan"},"mark":{"type":"line","color":"#87CEFA","strokeWidth":1.6}},
{"data":{"name":"luohu"},"mark":{"type":"line","color":"#6A5ACD","strokeWidth":1.6}},
{"data":{"name":"baoan"},"mark":{"type":"line","color":"#FF8C00","strokeWidth":1.6}},
{"data":{"name":"longhua"},"mark":{"type":"line","color":"#DA70D6","strokeWidth":1.6}},
{"data":{"name":"futian"},"mark":{"type":"line","color":"#CD853F","strokeWidth":1.6}},
{"data":{"name":"mean"},"mark":{"type":"line","color":"#000000","strokeWidth":4},
 "encoding":{
  "x":{"field":"h","type":"quantitative","axis":{"orient":"bottom","values":[0,4,8,12,16,20,24,28,32,36,40,44,48,52,56,60,64,68,72,76,79],"labelExpr":"datum.value == 0 ? '11-5 00' : datum.value == 24 ? '11-6 00' : datum.value == 48 ? '11-7 00' : datum.value == 72 ? '11-8 00' : datum.value == 79 ? '08' : ((datum.value % 24) < 10 ? '0' : '') + (datum.value % 24)","title":"Date","grid":false,"tickSize":-14,"tickColor":"#262626","tickWidth":1.2,"domainColor":"#262626","domainWidth":1.2,"labelFont":"DejaVu Sans","labelFontSize":22,"labelColor":"#262626","labelPadding":32,"labelFlush":false,"labelOverlap":false,"titleFont":"DejaVu Sans","titleFontSize":22,"titleFontWeight":"normal","titleColor":"#262626","titlePadding":14}},
  "y":{"field":"v","type":"quantitative","axis":{"orient":"left","values":[0,20,40,60,80,100,120,140,160],"title":"NO₂ concentrations [μg m⁻³]","grid":false,"tickSize":-14,"tickColor":"#262626","tickWidth":1.2,"domainColor":"#262626","domainWidth":1.2,"labelFont":"DejaVu Sans","labelFontSize":22,"labelColor":"#262626","labelPadding":21,"labelFlush":false,"titleFont":"DejaVu Sans","titleFontSize":22,"titleFontWeight":"normal","titleColor":"#262626","titlePadding":24}}
 }},
{"data":{"name":"futian"},"mark":{"type":"point","shape":"circle","size":169,"filled":false,"color":"#CD853F","strokeWidth":1.6,"opacity":1}},
{"data":{"name":"nanshan"},"mark":{"type":"point","shape":"M-1,0H1M0,-1V1","size":225,"filled":false,"color":"#87CEFA","strokeWidth":1.6,"opacity":1}},
{"data":{"name":"yantian"},"mark":{"type":"point","shape":"M-1,0H1M0,-1V1M-0.7,-0.7L0.7,0.7M-0.7,0.7L0.7,-0.7","size":169,"filled":false,"color":"#4682B4","strokeWidth":1.6,"opacity":1}},
{"data":{"name":"longgang"},"mark":{"type":"point","shape":"triangle-up","size":190,"filled":false,"color":"#FFD700","strokeWidth":1.6,"opacity":1}},
{"data":{"name":"dapeng"},"mark":{"type":"point","shape":"diamond","size":225,"filled":false,"color":"#9ACD32","strokeWidth":1.6,"opacity":1}},
{"data":{"name":"longhua"},"mark":{"type":"point","shape":"square","size":90,"filled":false,"color":"#DA70D6","strokeWidth":1.6,"opacity":1}},
{"data":{"name":"notes"},"mark":{"type":"text","align":"left","baseline":"middle","font":"DejaVu Sans","fontSize":21,"color":"#000000"},"encoding":{"text":{"field":"t","type":"nominal"}}},
{"data":{"name":"notesub"},"mark":{"type":"text","align":"left","baseline":"middle","font":"DejaVu Sans","fontSize":19,"color":"#000000"},"encoding":{"text":{"field":"t","type":"nominal"}}},
{"data":{"name":"legend"},"transform":[{"filter":"false"}],"mark":{"type":"point","filled":false,"strokeWidth":1.6,"opacity":1},
 "encoding":{
  "x":{"field":"h","type":"quantitative","axis":{"orient":"top","values":[0,4,8,12,16,20,24,28,32,36,40,44,48,52,56,60,64,68,72,76],"labels":false,"title":null,"grid":false,"tickSize":-14,"tickColor":"#262626","tickWidth":1.2,"domainColor":"#262626","domainWidth":1.2}},
  "y":{"field":"v","type":"quantitative","axis":{"orient":"right","values":[0,20,40,60,80,100,120,140,160],"labels":false,"title":null,"grid":false,"tickSize":-14,"tickColor":"#262626","tickWidth":1.2,"domainColor":"#262626","domainWidth":1.2}},
  "color":{"field":"d","type":"nominal","scale":{"domain":["福田","罗湖","南山","盐田","龙岗","宝安","大鹏","龙华","坪山"],"range":["#CD853F","#6A5ACD","#87CEFA","#4682B4","#FFD700","#FF8C00","#9ACD32","#DA70D6","#20B2AA"]},
   "legend":{"title":null,"orient":"none","legendX":117,"legendY":-91,"direction":"horizontal","columns":9,"symbolSize":3600,"symbolStrokeWidth":1.6,"labelFont":"Noto Sans CJK SC","labelFontSize":22,"labelColor":"#262626","labelOffset":6,"columnPadding":20,"padding":0}},
  "shape":{"field":"d","type":"nominal","scale":{"domain":["福田","罗湖","南山","盐田","龙岗","宝安","大鹏","龙华","坪山"],"range":["M-1,0H1M0.2,0A0.2,0.2 0 1 1 -0.2,0A0.2,0.2 0 1 1 0.2,0","M-1,0H1","M-1,0H1M0,-0.25V0.25","M-1,0H1M0,-0.22V0.22M-0.16,-0.16L0.16,0.16M-0.16,0.16L0.16,-0.16","M-1,0H1M0,-0.25L0.22,0.15L-0.22,0.15Z","M-1,0H1","M-1,0H1M0,-0.27L0.22,0L0,0.27L-0.22,0Z","M-1,0H1M-0.15,-0.15H0.15V0.15H-0.15Z","M-1,0H1"]},
   "legend":{"title":null,"orient":"none","legendX":117,"legendY":-91,"direction":"horizontal","columns":9,"symbolSize":3600,"symbolStrokeWidth":1.6,"labelFont":"Noto Sans CJK SC","labelFontSize":22,"labelColor":"#262626","labelOffset":6,"columnPadding":20,"padding":0}}
 }}
]
}
